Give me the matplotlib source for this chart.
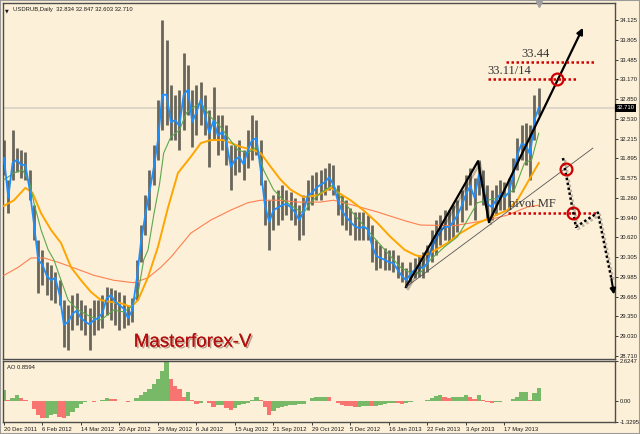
import numpy as np
import matplotlib.pyplot as plt
import matplotlib.patheffects as pe
from matplotlib.transforms import blended_transform_factory

# dados (uma amostra a cada 3 barras diarias)
passo = 3

fechamento = [31.90, 31.26, 31.82, 31.87, 31.79, 31.79, 31.39, 30.84, 30.26, 30.18,
              30.00, 29.93, 29.97, 29.69, 29.21, 29.26, 29.39, 29.44, 29.32, 29.26,
              29.22, 29.29, 29.32, 29.40, 29.64, 29.69, 29.58, 29.53, 29.47, 29.32,
              29.45, 29.93, 30.53, 30.97, 31.35, 31.74, 32.19, 32.92, 32.92, 32.48,
              32.51, 32.42, 32.92, 33.00, 32.48, 32.64, 32.84, 32.58, 32.30, 32.51,
              32.26, 32.32, 32.16, 31.76, 31.87, 31.92, 31.80, 32.03, 32.19, 32.22,
              31.71, 31.14, 30.87, 31.06, 31.10, 31.14, 31.16, 31.11, 31.03, 30.90,
              31.03, 31.29, 31.34, 31.42, 31.47, 31.51, 31.59, 31.47, 31.22, 31.05,
              30.95, 30.87, 30.80, 30.77, 30.79, 30.76, 30.50, 30.32, 30.29, 30.26,
              30.22, 30.21, 30.10, 30.00, 29.93, 30.03, 30.10, 30.14, 30.13, 30.21,
              30.45, 30.61, 30.72, 30.79, 30.79, 30.87, 30.98, 31.13, 31.32, 31.45,
              31.26, 31.63, 31.40, 31.16, 31.11, 31.22, 31.32, 31.27, 31.34, 31.61,
              31.95, 32.13, 32.11, 31.95, 32.51, 32.71]

maxima = [32.19, 31.55, 32.35, 32.06, 32.03, 32.00, 31.71, 31.14, 30.58, 30.42,
          30.22, 30.18, 30.06, 29.93, 29.61, 29.53, 29.69, 29.72, 29.61, 29.53,
          29.48, 29.61, 29.61, 29.69, 29.82, 29.81, 29.77, 29.74, 29.69, 29.53,
          29.64, 30.26, 30.82, 31.30, 31.71, 32.11, 32.84, 34.13, 33.80, 33.08,
          32.92, 33.00, 33.59, 33.40, 33.00, 33.08, 33.13, 32.92, 32.67, 33.05,
          32.59, 32.59, 32.43, 32.11, 32.11, 32.19, 32.03, 32.35, 32.59, 32.51,
          32.19, 31.55, 31.22, 31.30, 31.39, 31.47, 31.39, 31.35, 31.26, 31.14,
          31.30, 31.55, 31.63, 31.68, 31.71, 31.74, 31.82, 31.79, 31.47, 31.30,
          31.22, 31.10, 31.03, 31.03, 31.03, 30.98, 30.82, 30.58, 30.50, 30.45,
          30.42, 30.42, 30.34, 30.22, 30.13, 30.22, 30.29, 30.34, 30.39, 30.50,
          30.74, 30.90, 30.98, 31.06, 31.06, 31.14, 31.22, 31.39, 31.63, 31.74,
          31.58, 31.87, 31.71, 31.47, 31.39, 31.47, 31.55, 31.51, 31.58, 31.90,
          32.22, 32.43, 32.47, 32.43, 32.92, 33.03]

minima = [31.63, 31.01, 31.55, 31.68, 31.58, 31.55, 31.22, 30.58, 29.72, 29.85,
          29.69, 29.61, 29.56, 29.53, 28.85, 28.81, 29.13, 29.21, 29.13, 29.05,
          28.81, 29.05, 29.13, 29.16, 29.37, 29.29, 29.21, 29.13, 29.16, 29.21,
          29.26, 29.61, 30.22, 30.66, 31.06, 31.47, 31.87, 32.35, 32.43, 32.19,
          32.19, 32.03, 32.35, 32.59, 32.08, 32.27, 32.43, 32.27, 31.76, 32.19,
          31.95, 32.03, 31.79, 31.39, 31.63, 31.68, 31.55, 31.74, 31.87, 31.95,
          31.47, 30.82, 30.42, 30.74, 30.82, 30.90, 30.98, 30.90, 30.82, 30.58,
          30.66, 31.06, 31.14, 31.22, 31.22, 31.30, 31.39, 31.30, 30.98, 30.82,
          30.74, 30.66, 30.58, 30.58, 30.58, 30.58, 30.22, 30.10, 30.13, 30.10,
          30.10, 30.06, 29.97, 29.90, 29.82, 29.90, 29.97, 29.98, 29.97, 30.06,
          30.22, 30.34, 30.50, 30.58, 30.55, 30.61, 30.71, 30.87, 31.06, 31.14,
          30.90, 31.30, 31.14, 30.93, 30.90, 30.98, 31.06, 31.06, 31.10, 31.35,
          31.71, 31.87, 31.79, 31.55, 32.19, 32.59]

# Awesome Oscillator
ao = [0.75, 0.10, 0.25, 0.40, 0.20, 0.08, 0.00, -0.50, -0.90, -1.08,
      -1.05, -0.90, -0.80, -1.00, -1.08, -0.95, -0.70, -0.45, -0.15, -0.05,
      0.00, -0.05, 0.05, 0.12, 0.20, 0.18, 0.14, 0.06, 0.02, -0.03,
      0.00, 0.25, 0.45, 0.65, 0.85, 1.15, 1.50, 2.00, 2.60, 1.50,
      1.00, 0.85, 0.30, 0.60, 0.10, -0.15, -0.10, 0.05, -0.10, -0.33,
      -0.20, -0.20, -0.40, -0.55, -0.40, -0.25, -0.15, -0.10, 0.10, 0.30,
      0.08, -0.35, -0.90, -0.60, -0.45, -0.38, -0.30, -0.25, -0.20, -0.17,
      -0.14, 0.00, 0.20, 0.28, 0.30, 0.32, 0.30, 0.05, -0.10, -0.20,
      -0.28, -0.32, -0.35, -0.33, -0.30, -0.28, -0.30, -0.28, -0.20, -0.15,
      -0.12, -0.10, -0.12, -0.15, -0.10, -0.03, 0.00, 0.02, 0.03, 0.10,
      0.25, 0.38, 0.40, 0.30, 0.25, 0.30, 0.30, 0.32, 0.45, 0.30,
      0.15, 0.45, 0.10, -0.05, -0.10, -0.06, -0.03, 0.00, 0.05, 0.15,
      0.30, 0.60, 0.60, 0.10, 0.55, 0.86]

# medias moveis (barra, preco)
verde_x = [0, 7, 13, 18, 21, 26, 31, 35, 40, 45, 52, 61, 68, 77, 84, 89, 94, 98, 101, 105,
           109, 112, 117, 123, 128, 133, 138, 145, 152, 157, 164, 171, 177, 182, 189, 196, 203, 210, 215, 222,
           231, 236, 243, 252, 259, 269, 278, 285, 292, 299, 309, 318, 325, 332, 339, 349, 358, 365, 370, 375]
verde_y = [31.55, 31.66, 31.71, 31.50, 31.18, 30.74, 30.42, 30.26, 29.93, 29.61,
           29.45, 29.34, 29.29, 29.45, 29.42, 29.50, 29.72, 30.26, 30.42, 30.98,
           31.47, 31.98, 32.24, 32.35, 32.63, 32.72, 32.79, 32.56, 32.40, 32.24,
           32.03, 31.98, 32.08, 31.71, 31.39, 31.22, 31.11, 31.01, 31.18, 31.34,
           31.47, 31.27, 31.06, 30.82, 30.63, 30.37, 30.14, 30.05, 30.05, 30.26,
           30.47, 30.63, 30.90, 31.18, 31.22, 31.27, 31.39, 31.82, 31.87, 32.30]

laranja_x = [0, 7, 15, 20, 26, 33, 40, 47, 54, 61, 68, 75, 82, 89, 94, 101, 108, 115, 122, 131,
             138, 145, 154, 166, 175, 180, 187, 194, 201, 210, 220, 229, 234, 243, 252, 262, 271, 281, 288, 292,
             299, 311, 320, 332, 342, 353, 360, 367, 375]
laranja_y = [31.13, 31.22, 31.42, 31.34, 31.01, 30.74, 30.53, 30.14, 29.93, 29.74,
             29.61, 29.58, 29.56, 29.50, 29.61, 29.98, 30.47, 31.10, 31.66, 31.92,
             32.14, 32.19, 32.19, 32.08, 32.03, 31.98, 31.76, 31.55, 31.39, 31.27,
             31.30, 31.42, 31.35, 31.22, 31.06, 30.85, 30.63, 30.42, 30.34, 30.31,
             30.37, 30.53, 30.69, 30.85, 30.95, 31.06, 31.22, 31.50, 31.82]

vermelha_x = [0, 10, 19, 28, 38, 49, 63, 77, 91, 101, 110, 117, 131, 145, 159, 171, 180, 193, 206, 222,
              231, 245, 262, 281, 292, 316, 339, 353, 367, 375]
vermelha_y = [30.01, 30.14, 30.29, 30.29, 30.22, 30.13, 30.01, 29.93, 29.89, 29.97,
              30.14, 30.30, 30.69, 30.90, 31.06, 31.18, 31.22, 31.22, 31.19, 31.19,
              31.22, 31.14, 31.03, 30.89, 30.82, 30.81, 30.90, 30.98, 31.11, 31.14]

rotulos_datas = ["20 Dec 2011", "6 Feb 2012", "14 Mar 2012", "20 Apr 2012", "29 May 2012",
                 "6 Jul 2012", "15 Aug 2012", "21 Sep 2012", "29 Oct 2012", "5 Dec 2012",
                 "16 Jan 2013", "22 Feb 2013", "3 Apr 2013", "17 May 2013"]
barras_por_rotulo = 27
precos_eixo = [34.125, 33.805, 33.485, 33.170, 32.850, 32.530, 32.215, 31.895, 31.575,
               31.260, 30.940, 30.620, 30.305, 29.985, 29.665, 29.350, 29.030, 28.710]
ao_eixo = [2.6247, 0.0, -1.3295]
ao_rotulos = ["2.6247", "0.00", "-1.3295"]
ultimo_preco = 32.710
titulo = "USDRUB,Daily  32.834 32.847 32.603 32.710"

# desenho (anotacoes do analista em barra/preco)
zigue_x = [281.9, 332.4, 340.1]
zigue_y = [29.82, 31.85, 30.87]
seta_alta = (406.0, 34.00)
tendencia_x = [281.9, 413.0]
tendencia_y = [29.82, 32.06]
pontilhado_x = [392.0, 401.1, 416.5, 426.0]
pontilhado_y = [31.90, 30.79, 31.02, 29.95]
seta_baixa = (427.8, 29.70)
niveis = [("33.44", 33.44, 352.0, 413.7, 362.5),
          ("33.11/14", 33.17, 339.4, 401.1, 339.0),
          ("pivot MF", 31.02, 353.4, 416.5, 354.0)]
circulos_x = [387.8, 394.1, 399.0]
circulos_y = [33.17, 31.72, 31.02]

creme = "#fdf0d8"
cor_borda = "#4d4d4d"
cor_texto = "#1a1a1a"
fonte = "Liberation Sans"
fs = 4.2

fig = plt.figure(figsize=(6.4, 4.34), dpi=100, facecolor=creme)
ax = fig.add_axes([3 / 640, 75 / 434, 612 / 640, 356 / 434], facecolor=creme)
ax2 = fig.add_axes([3 / 640, 12 / 434, 612 / 640, 61 / 434], facecolor=creme)

x = np.arange(len(fechamento)) * passo

# barras e medias
ax.axhline(ultimo_preco, color="#d8d2c4", lw=1.2, zorder=1)
ax.vlines(x, minima, maxima, color="#68655a", lw=2.0, zorder=2)
ax.plot(vermelha_x, vermelha_y, color="#ff7f50", lw=0.8, zorder=3)
ax.plot(laranja_x, laranja_y, color="#ffa500", lw=1.4, zorder=3)
ax.plot(verde_x, verde_y, color="#5aa84c", lw=0.8, zorder=4)
ax.plot(x, fechamento, color="#1e8fff", lw=1.3, zorder=5)

sombra = [pe.SimpleLineShadow(offset=(1.5, -1.5), alpha=0.25), pe.Normal()]

# zigue-zague e setas
ax.plot(zigue_x, zigue_y, color="black", lw=1.6, zorder=6, path_effects=sombra)
ax.annotate("", xy=seta_alta, xytext=(zigue_x[-1], zigue_y[-1]),
            arrowprops=dict(arrowstyle="-|>", color="black", lw=1.6, mutation_scale=9,
                            shrinkA=0, shrinkB=0), zorder=6)
ax.plot(tendencia_x, tendencia_y, color="#555555", lw=0.6, zorder=6)

# niveis pontilhados
for txt, nivel, x0, x1, xt in niveis:
    ax.plot([x0, x1], [nivel, nivel], color="#d40000", lw=1.8, ls=(0, (1, 1)), zorder=6)
    ax.text(xt, nivel + 0.04, txt, fontsize=9, family="Liberation Serif",
            color="#333333", va="bottom", ha="left", zorder=7)

ax.plot(pontilhado_x, pontilhado_y, color="black", lw=1.8, ls=(0, (1, 1)), zorder=6,
        path_effects=[pe.SimpleLineShadow(offset=(1.5, -1.5), alpha=0.25), pe.Normal()])
ax.annotate("", xy=seta_baixa, xytext=(pontilhado_x[-1], pontilhado_y[-1]),
            arrowprops=dict(arrowstyle="-|>", color="black", lw=1.5, mutation_scale=8,
                            shrinkA=0, shrinkB=0), zorder=6)
ax.plot(circulos_x, circulos_y, "o", ms=8.5, mfc="none", mec="#cc0000", mew=1.6, zorder=7)

ax.text(91, 28.86, "Masterforex-V", fontsize=13.5, family="Liberation Sans", color="#b30f0f",
        zorder=7, path_effects=[pe.withSimplePatchShadow(offset=(1.2, -1.2), alpha=0.35), pe.Normal()])

ax.text(0.016, 0.988, titulo, transform=ax.transAxes, fontsize=fs, family=fonte,
        color=cor_texto, va="top")
ax.text(0.004, 0.984, "▼", transform=ax.transAxes, fontsize=3.5, color=cor_texto, va="top")
ax.plot([x[-1]], [34.38], marker="v", ms=4, color="#a0a0a0", zorder=7, clip_on=False)

trans = blended_transform_factory(ax.transAxes, ax.transData)
ax.text(1.003, ultimo_preco, f"{ultimo_preco:.3f}", transform=trans, fontsize=fs, family=fonte,
        color="white", va="center", ha="left",
        bbox=dict(boxstyle="square,pad=0.25", fc="black", ec="none"), zorder=8)

ax.set_xlim(-0.7, 428.5)
ax.set_ylim(28.661, 34.399)
ax.yaxis.tick_right()
ax.set_yticks(precos_eixo)
ax.set_yticklabels([f"{p:.3f}" for p in precos_eixo], family=fonte)
ax.set_xticks([])
ax.tick_params(axis="y", direction="out", length=2, width=0.6, pad=1.5, labelsize=fs,
               colors=cor_texto)

# oscilador
cores_ao = ["#77b966" if i == 0 or ao[i] >= ao[i - 1] else "#f77470" for i in range(len(ao))]
ax2.bar(x, ao, width=passo, color=cores_ao, linewidth=0)
ax2.text(0.006, 0.93, "AO 0.8594", transform=ax2.transAxes, fontsize=fs, family=fonte,
         color=cor_texto, va="top")
ax2.set_xlim(-0.7, 428.5)
ax2.set_ylim(-1.345, 2.657)
ax2.yaxis.tick_right()
ax2.set_yticks(ao_eixo)
ax2.set_yticklabels(ao_rotulos, family=fonte)
ax2.set_xticks(np.arange(len(rotulos_datas)) * barras_por_rotulo)
ax2.set_xticklabels(rotulos_datas, ha="left", family=fonte)
ax2.tick_params(direction="out", length=2, width=0.6, pad=1.5, labelsize=fs, colors=cor_texto)

for a in (ax, ax2):
    for s in a.spines.values():
        s.set_color(cor_borda)
        s.set_linewidth(1.0)

fig.patches.append(plt.Rectangle((0, 0), 1, 1, transform=fig.transFigure, fill=False,
                                 ec="#9a9a9a", lw=1.5))

fig.savefig("out.png", dpi=100, facecolor=creme)
